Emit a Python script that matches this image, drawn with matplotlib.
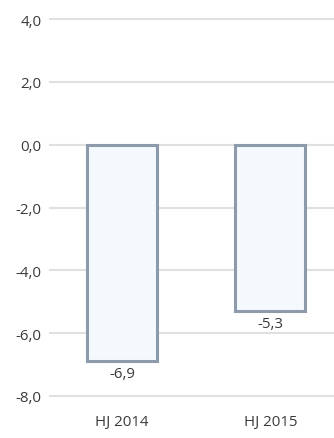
import matplotlib
matplotlib.use("Agg")
import matplotlib.pyplot as plt
from matplotlib.ticker import FuncFormatter

categories = ["HJ 2014", "HJ 2015"]
values = [-6.9, -5.3]
yticks = [4.0, 2.0, 0.0, -2.0, -4.0, -6.0, -8.0]

plt.rcParams['font.family'] = ['Open Sans', 'DejaVu Sans']

fig = plt.figure(figsize=(3.34, 4.39), dpi=100)
ax = fig.add_axes([50/334, 42/439, 284/334, 377/439])

x = list(range(len(categories)))
ax.bar(x, values, width=0.47, color="#f4f9fd", edgecolor="#8c9aab", linewidth=2.2, zorder=3)

ax.set_ylim(-8, 4)
ax.set_xlim(-0.486, 1.43)
ax.set_yticks(yticks)
ax.yaxis.set_major_formatter(FuncFormatter(lambda v, p: f"{v:.1f}".replace(".", ",")))
ax.set_xticks(x)
ax.set_xticklabels(categories)
ax.tick_params(axis="both", length=0, labelsize=10.8, colors="#3a3a3a")
ax.tick_params(axis="y", pad=6)
ax.tick_params(axis="x", pad=13)
for s in ax.spines.values():
    s.set_visible(False)
ax.grid(axis="y", color="#e0e0e0", linewidth=1.5, zorder=0)
ax.set_axisbelow(True)
for gl in ax.get_ygridlines():
    gl.set_clip_on(False)

for xi, v in zip(x, values):
    ax.annotate(f"{v:.1f}".replace(".", ","), (xi, v), xytext=(0, -3.5), textcoords="offset points",
                ha="center", va="top", fontsize=10.8, color="#3a3a3a")

fig.savefig("out.png", dpi=100)
